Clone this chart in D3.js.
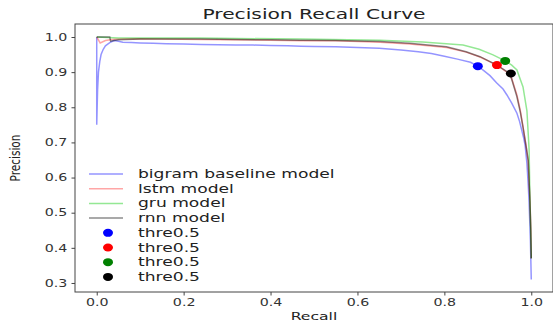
<!DOCTYPE html>
<html><head><meta charset="utf-8">
<script src="https://cdn.jsdelivr.net/npm/d3@7/dist/d3.min.js"></script>
<style>body{margin:0;background:#fff;}svg{display:block;font-family:"DejaVu Sans",sans-serif;}</style>
</head><body><svg id="c" width="553" height="323"></svg>
<script>
// ---- data ----
const bigramRecall = [0, 0, 0.002, 0.004, 0.007, 0.01, 0.015, 0.02, 0.03, 0.04, 0.05, 0.06, 0.08, 0.1, 0.13, 0.16, 0.2, 0.24, 0.28, 0.32, 0.36, 0.4, 0.44, 0.47, 0.5, 0.55, 0.6, 0.65, 0.7, 0.74, 0.77, 0.8, 0.83, 0.86, 0.877, 0.89, 0.905, 0.92, 0.935, 0.944, 0.955, 0.967, 0.973, 0.978, 0.983, 0.986, 0.99, 0.993, 0.995, 0.998, 1.0];
const bigramPrecision = [1.0, 0.75, 0.85, 0.9, 0.93, 0.95, 0.965, 0.975, 0.984, 0.99, 0.988, 0.985, 0.984, 0.983, 0.982, 0.981, 0.98, 0.979, 0.978, 0.977, 0.977, 0.976, 0.975, 0.974, 0.973, 0.972, 0.97, 0.968, 0.963, 0.958, 0.953, 0.945, 0.937, 0.928, 0.917, 0.905, 0.89, 0.87, 0.852, 0.835, 0.812, 0.783, 0.76, 0.735, 0.71, 0.69, 0.64, 0.58, 0.53, 0.42, 0.31];

const lstmRecall = [0, 0.008, 0.02, 0.035, 0.05, 0.1, 0.24, 0.4, 0.47, 0.55, 0.652, 0.72, 0.805, 0.85, 0.882, 0.921, 0.944, 0.955, 0.967, 0.975, 0.981, 0.988, 0.993, 0.997, 0.999, 1.0];
const lstmPrecision = [1.0, 0.983, 0.99, 0.993, 0.994, 0.995, 0.993, 0.991, 0.989, 0.989, 0.985, 0.98, 0.97, 0.957, 0.943, 0.92, 0.9, 0.882, 0.835, 0.79, 0.745, 0.69, 0.645, 0.53, 0.45, 0.37];

const gruRecall = [0, 0.05, 0.1, 0.238, 0.468, 0.652, 0.75, 0.843, 0.88, 0.912, 0.94, 0.955, 0.967, 0.981, 0.99, 0.995, 0.997, 1.0];
const gruPrecision = [1.0, 0.997, 0.997, 0.997, 0.994, 0.991, 0.986, 0.977, 0.965, 0.949, 0.932, 0.92, 0.906, 0.858, 0.79, 0.68, 0.534, 0.37];

const rnnRecall = [0, 0.03, 0.032, 0.04, 0.05, 0.1, 0.238, 0.4, 0.468, 0.55, 0.652, 0.72, 0.805, 0.85, 0.882, 0.921, 0.951, 0.967, 0.975, 0.981, 0.988, 0.993, 0.997, 0.999, 1.0];
const rnnPrecision = [1.0, 1.0, 0.988, 0.99, 0.992, 0.994, 0.994, 0.992, 0.991, 0.99, 0.987, 0.982, 0.972, 0.958, 0.944, 0.92, 0.896, 0.83, 0.785, 0.743, 0.69, 0.649, 0.534, 0.45, 0.37];

const seriesNames = ["bigram baseline model", "lstm model", "gru model", "rnn model"];
const thresholdLabels = ["thre0.5", "thre0.5", "thre0.5", "thre0.5"];
const thresholdRecall = [0.877, 0.921, 0.94, 0.953];
const thresholdPrecision = [0.917, 0.92, 0.932, 0.896];

const xTicks = [0, 0.2, 0.4, 0.6, 0.8, 1.0];
const yTicks = [0.3, 0.4, 0.5, 0.6, 0.7, 0.8, 0.9, 1.0];

// ---- layout / style ----
const SX = 1.42; // horizontal stretch of the reference image
const lineColors = ["#0000ff", "#ff0000", "#00c800", "#000000"];
const lineOpacity = [0.42, 0.35, 0.42, 0.45];
const dotColors = ["#0000ff", "#ff0000", "#008000", "#000000"];
const svg = d3.select("#c");
const L = 75, R = 553, T = 24, B = 292;
const x = d3.scaleLinear().domain([-0.05, 1.05]).range([L, R]);
const y = d3.scaleLinear().domain([0.2743, 1.037]).range([B, T]);

const curves = [
  [bigramRecall, bigramPrecision],
  [lstmRecall, lstmPrecision],
  [gruRecall, gruPrecision],
  [rnnRecall, rnnPrecision]
];
const line = d3.line().x(d => x(d[0])).y(d => y(d[1]));

const plot = svg.append("g");
curves.forEach((c, i) => {
  const pts = c[0].map((r, k) => [r, c[1][k]]);
  plot.append("path").datum(pts).attr("d", line)
    .attr("fill", "none").attr("stroke", lineColors[i])
    .attr("stroke-opacity", lineOpacity[i]).attr("stroke-width", 1.5);
});
thresholdRecall.forEach((r, i) => {
  plot.append("ellipse").attr("cx", x(r)).attr("cy", y(thresholdPrecision[i]))
    .attr("rx", 5).attr("ry", 4).attr("fill", dotColors[i]);
});

// frame
svg.append("rect").attr("x", L).attr("y", T).attr("width", R - L).attr("height", B - T)
  .attr("fill", "none").attr("stroke", "#444").attr("stroke-width", 1);

// axes
const xAxis = svg.append("g").attr("transform", `translate(0,${B})`)
  .call(d3.axisBottom(x).tickValues(xTicks).tickFormat(d3.format(".1f")).tickSize(3.5).tickSizeOuter(0).tickPadding(3));
const yAxis = svg.append("g").attr("transform", `translate(${L},0)`)
  .call(d3.axisLeft(y).tickValues(yTicks).tickFormat(d3.format(".1f")).tickSize(3.5).tickSizeOuter(0).tickPadding(2));
[xAxis, yAxis].forEach(a => {
  a.select(".domain").remove();
  a.selectAll(".tick line").attr("stroke", "#444");
  a.selectAll("text").attr("font-size", 10).attr("fill", "#333")
    .attr("font-family", "DejaVu Sans").attr("transform", `scale(${SX},1)`);
});

// title & labels
function stext(txt, tx, ty, size, anchor, sx) {
  return svg.append("text").attr("transform", `translate(${tx},${ty}) scale(${sx || SX},1)`)
    .attr("text-anchor", anchor).attr("font-size", size).attr("fill", "#222").text(txt);
}
stext("Precision Recall Curve", (L + R) / 2, 19, 13.5, "middle", 1.5);
stext("Recall", (L + R) / 2, 320, 11, "middle");
svg.append("text").attr("transform", `translate(20,${(T + B) / 2}) rotate(-90) scale(1,${SX})`)
  .attr("text-anchor", "middle").attr("font-size", 10.5).attr("fill", "#222").text("Precision");

// legend
const legY0 = 174, legDy = 14.7, legX = 89;
seriesNames.forEach((n, i) => {
  const yy = legY0 + i * legDy;
  svg.append("line").attr("x1", legX).attr("x2", legX + 34).attr("y1", yy).attr("y2", yy)
    .attr("stroke", lineColors[i]).attr("stroke-opacity", lineOpacity[i]).attr("stroke-width", 1.5);
  stext(n, legX + 49, yy + 4, 11.5, "start", 1.49);
});
thresholdLabels.forEach((n, i) => {
  const yy = legY0 + (seriesNames.length + i) * legDy;
  svg.append("ellipse").attr("cx", legX + 19).attr("cy", yy).attr("rx", 5).attr("ry", 4).attr("fill", dotColors[i]);
  stext(n, legX + 49, yy + 4, 11.5, "start", 1.49);
});
</script></body></html>
